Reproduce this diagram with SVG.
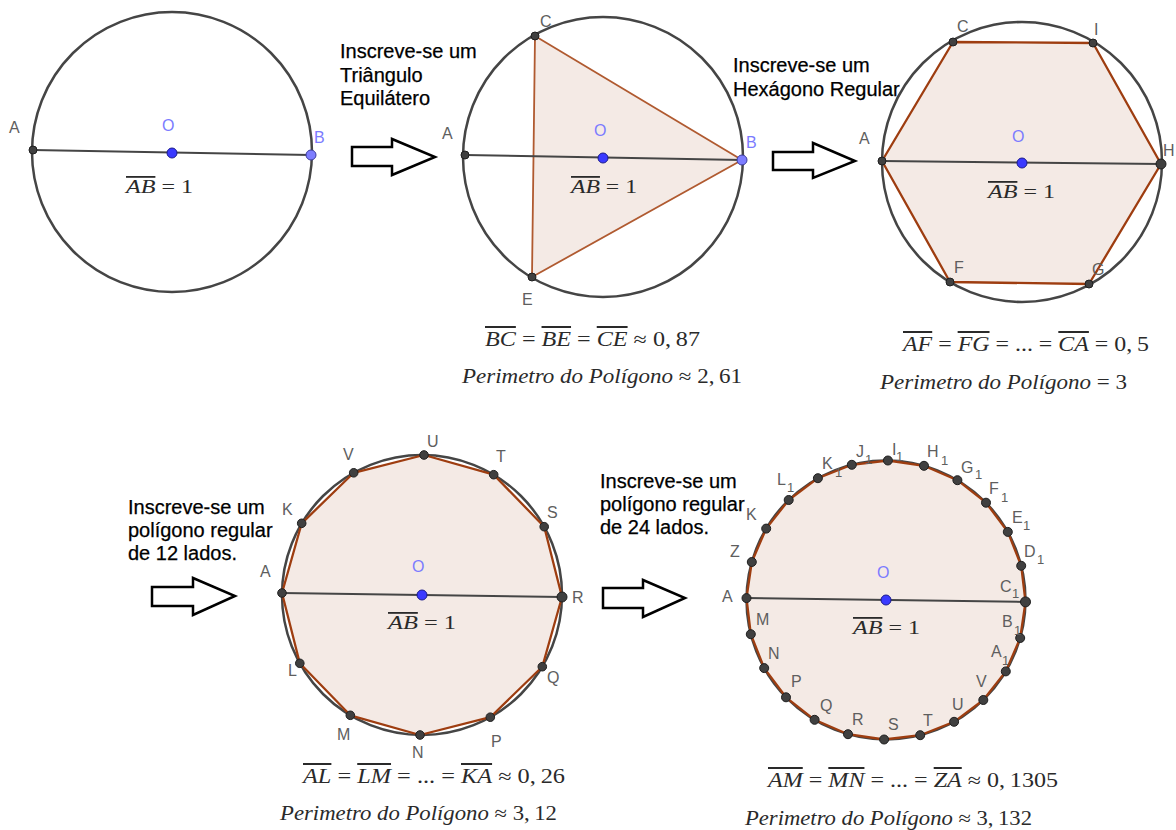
<svg xmlns="http://www.w3.org/2000/svg" width="1176" height="830" viewBox="0 0 1176 830">
<style>
.circ{fill:none;stroke:#454545;stroke-width:2.5}
.dia{stroke:#454545;stroke-width:2}
.poly{fill:#f4eae5;stroke:#9e3d10;stroke-width:2.3;stroke-linejoin:round}
.pt{fill:#404040;stroke:#1f1f1f;stroke-width:1}
.po{fill:#3a3aff;stroke:#1c1c8c;stroke-width:1}
.pb{fill:#7d7dff;stroke:#3d3d9d;stroke-width:1}
.lb{font-family:"Liberation Sans",Arial,sans-serif;font-size:16px;fill:#5e5e5e}
.sub{font-size:13px}
.lo{font-family:"Liberation Sans",Arial,sans-serif;font-size:16px;fill:#7b7bff}
.tx{font-family:"Liberation Sans",Arial,sans-serif;font-size:20px;fill:#000;stroke:#000;stroke-width:0.25}
.m{font-family:"Liberation Serif","Times New Roman",serif;font-size:20px;fill:#2a2a2a}
.ms{font-size:18px}
.i{font-style:italic}
.ov{font-style:italic;text-decoration:overline}
.arr{fill:#fff;stroke:#000;stroke-width:2.5;stroke-linejoin:miter}
</style>

<g id="fig1">
<circle class="circ" cx="172" cy="152" r="140"/>
<line class="dia" x1="33" y1="150" x2="311" y2="155"/>
<circle class="pt" cx="33" cy="150" r="4"/>
<circle class="po" cx="172" cy="153" r="5"/>
<circle class="pb" cx="311" cy="155" r="5"/>
<text class="lb" x="9" y="133">A</text>
<text class="lo" x="162" y="131">O</text>
<text class="lo" x="314" y="143">B</text>
<text class="m ms" x="126" y="193" textLength="67" lengthAdjust="spacingAndGlyphs"><tspan class="ov">AB</tspan> = 1</text>
</g>

<g id="fig2">
<polygon class="poly" style="stroke-width:1.8;stroke:#b05a30" points="535,36 742,160 532,277"/>
<circle class="circ" cx="603" cy="157" r="140"/>
<line class="dia" x1="465" y1="155" x2="742" y2="160"/>
<circle class="pt" cx="465" cy="155" r="4"/>
<circle class="pt" cx="535" cy="36" r="4"/>
<circle class="pt" cx="532" cy="277" r="4"/>
<circle class="po" cx="603" cy="158" r="5"/>
<circle class="pb" cx="742" cy="160" r="5"/>
<text class="lb" x="540" y="27">C</text>
<text class="lb" x="442" y="139">A</text>
<text class="lo" x="594" y="136">O</text>
<text class="lo" x="746" y="148">B</text>
<text class="lb" x="522" y="305">E</text>
<text class="m ms" x="571" y="193" textLength="66" lengthAdjust="spacingAndGlyphs"><tspan class="ov">AB</tspan> = 1</text>
<text class="m" x="485" y="346" textLength="215" lengthAdjust="spacingAndGlyphs"><tspan class="ov">BC</tspan> = <tspan class="ov">BE</tspan> = <tspan class="ov">CE</tspan> ≈ 0,<tspan dx="4">87</tspan></text>
<text class="m" x="462" y="383" textLength="280" lengthAdjust="spacingAndGlyphs"><tspan class="i">Perimetro do Polígono</tspan> ≈ 2,<tspan dx="4">61</tspan></text>
</g>

<g id="fig3">
<polygon class="poly" points="882,161 953,42 1093,43 1161,164 1089,284 950,282"/>
<circle class="circ" cx="1022" cy="162" r="140"/>
<line class="dia" x1="882" y1="161" x2="1161" y2="164"/>
<circle class="pt" cx="882" cy="161" r="4"/>
<circle class="pt" cx="953" cy="42" r="4"/>
<circle class="pt" cx="1093" cy="43" r="4"/>
<circle class="pt" cx="1161" cy="164" r="5"/>
<circle class="pt" cx="1089" cy="284" r="4"/>
<circle class="pt" cx="950" cy="282" r="4"/>
<circle class="po" cx="1022" cy="163" r="5"/>
<text class="lb" x="957" y="32">C</text>
<text class="lb" x="1094" y="35">I</text>
<text class="lb" x="859" y="144">A</text>
<text class="lo" x="1012" y="142">O</text>
<text class="lb" x="1163" y="156">H</text>
<text class="lb" x="954" y="273">F</text>
<text class="lb" x="1092" y="275">G</text>
<text class="m ms" x="988" y="198" textLength="67" lengthAdjust="spacingAndGlyphs"><tspan class="ov">AB</tspan> = 1</text>
<text class="m" x="903" y="351" textLength="246" lengthAdjust="spacingAndGlyphs"><tspan class="ov">AF</tspan> = <tspan class="ov">FG</tspan> = ... = <tspan class="ov">CA</tspan> = 0,<tspan dx="4">5</tspan></text>
<text class="m" x="880" y="389" textLength="247" lengthAdjust="spacingAndGlyphs"><tspan class="i">Perimetro do Polígono</tspan> = 3</text>
</g>

<g id="fig4">
<circle class="circ" cx="422" cy="595" r="140"/>
<polygon class="poly" points="562,597 544.2,526.7 493.7,474.7 424,455 353.7,472.8 301.7,523.3 282,593 299.8,663.3 350.3,715.3 420,735 490.3,717.2 542.3,666.7"/>
<line class="dia" x1="282" y1="593" x2="562" y2="597"/>
<g class="pt">
<circle cx="544.2" cy="526.7" r="4.3"/><circle cx="493.7" cy="474.7" r="4.3"/><circle cx="424" cy="455" r="4.3"/><circle cx="353.7" cy="472.8" r="4.3"/><circle cx="301.7" cy="523.3" r="4.3"/><circle cx="282" cy="593" r="4.3"/><circle cx="299.8" cy="663.3" r="4.3"/><circle cx="350.3" cy="715.3" r="4.3"/><circle cx="420" cy="735" r="4.3"/><circle cx="490.3" cy="717.2" r="4.3"/><circle cx="542.3" cy="666.7" r="4.3"/><circle cx="562" cy="597" r="5"/>
</g>
<circle class="po" cx="422" cy="595" r="5"/>
<text class="lb" x="427" y="447">U</text>
<text class="lb" x="496" y="462">T</text>
<text class="lb" x="547" y="518">S</text>
<text class="lb" x="572" y="603">R</text>
<text class="lb" x="547" y="683">Q</text>
<text class="lb" x="491" y="747">P</text>
<text class="lb" x="412" y="758">N</text>
<text class="lb" x="337" y="740">M</text>
<text class="lb" x="288" y="676">L</text>
<text class="lb" x="260" y="577">A</text>
<text class="lb" x="282" y="515">K</text>
<text class="lb" x="343" y="460">V</text>
<text class="lo" x="412" y="572">O</text>
<text class="m ms" x="388" y="629" textLength="68" lengthAdjust="spacingAndGlyphs"><tspan class="ov">AB</tspan> = 1</text>
<text class="m" x="303" y="783" textLength="262" lengthAdjust="spacingAndGlyphs"><tspan class="ov">AL</tspan> = <tspan class="ov">LM</tspan> = ... = <tspan class="ov">KA</tspan> ≈ 0,<tspan dx="4">26</tspan></text>
<text class="m" x="280" y="820" textLength="277" lengthAdjust="spacingAndGlyphs"><tspan class="i">Perimetro do Polígono</tspan> ≈ 3,<tspan dx="4">12</tspan></text>
</g>

<g id="fig5">
<circle class="circ" cx="886" cy="600" r="139.5"/>
<polygon class="poly" points="1025.5,601.9 1021.2,565.8 1007.8,531.9 986,502.7 957.4,480.2 924,465.8 887.9,460.5 851.8,464.8 817.9,478.2 788.7,500 766.2,528.6 751.8,562 746.5,598.1 750.8,634.2 764.2,668.1 786,697.3 814.6,719.8 848,734.2 884.1,739.5 920.2,735.2 954.1,721.8 983.3,700 1005.8,671.4 1020.2,638"/>
<line class="dia" x1="746.5" y1="598.1" x2="1025.5" y2="601.9"/>
<g class="pt">
<circle cx="1021.2" cy="565.8" r="4.5"/><circle cx="1007.8" cy="531.9" r="4.5"/><circle cx="986" cy="502.7" r="4.5"/><circle cx="957.4" cy="480.2" r="4.5"/><circle cx="924" cy="465.8" r="4.5"/><circle cx="887.9" cy="460.5" r="4.5"/><circle cx="851.8" cy="464.8" r="4.5"/><circle cx="817.9" cy="478.2" r="4.5"/><circle cx="788.7" cy="500" r="4.5"/><circle cx="766.2" cy="528.6" r="4.5"/><circle cx="751.8" cy="562" r="4.5"/><circle cx="746.5" cy="598.1" r="4.5"/><circle cx="750.8" cy="634.2" r="4.5"/><circle cx="764.2" cy="668.1" r="4.5"/><circle cx="786" cy="697.3" r="4.5"/><circle cx="814.6" cy="719.8" r="4.5"/><circle cx="848" cy="734.2" r="4.5"/><circle cx="884.1" cy="739.5" r="4.5"/><circle cx="920.2" cy="735.2" r="4.5"/><circle cx="954.1" cy="721.8" r="4.5"/><circle cx="983.3" cy="700" r="4.5"/><circle cx="1005.8" cy="671.4" r="4.5"/><circle cx="1020.2" cy="638" r="4.5"/><circle cx="1025.5" cy="601.9" r="5"/>
</g>
<circle class="po" cx="886" cy="600" r="5"/>
<text class="lb" x="722" y="602">A</text>
<text class="lb" x="730" y="557">Z</text>
<text class="lb" x="746" y="520">K</text>
<text class="lb" x="777" y="485">L<tspan class="sub" x="787" y="492">1</tspan></text>
<text class="lb" x="822" y="469">K<tspan class="sub" x="835" y="477">1</tspan></text>
<text class="lb" x="856" y="457">J<tspan class="sub" x="865" y="464">1</tspan></text>
<text class="lb" x="892" y="455">I<tspan class="sub" x="896" y="461">1</tspan></text>
<text class="lb" x="927" y="457">H<tspan class="sub" x="941" y="465">1</tspan></text>
<text class="lb" x="961" y="473">G<tspan class="sub" x="975" y="479">1</tspan></text>
<text class="lb" x="989" y="494">F<tspan class="sub" x="1001" y="502">1</tspan></text>
<text class="lb" x="1012" y="523">E<tspan class="sub" x="1023" y="530">1</tspan></text>
<text class="lb" x="1024" y="557">D<tspan class="sub" x="1037" y="564">1</tspan></text>
<text class="lb" x="1000" y="592">C<tspan class="sub" x="1012" y="598">1</tspan></text>
<text class="lb" x="1002" y="627">B<tspan class="sub" x="1014" y="635">1</tspan></text>
<text class="lb" x="991" y="657">A<tspan class="sub" x="1002" y="665">1</tspan></text>
<text class="lb" x="976" y="687">V</text>
<text class="lb" x="952" y="710">U</text>
<text class="lb" x="923" y="726">T</text>
<text class="lb" x="888" y="730">S</text>
<text class="lb" x="852" y="725">R</text>
<text class="lb" x="820" y="711">Q</text>
<text class="lb" x="791" y="687">P</text>
<text class="lb" x="768" y="659">N</text>
<text class="lb" x="756" y="625">M</text>
<text class="lo" x="877" y="578">O</text>
<text class="m ms" x="853" y="634" textLength="67" lengthAdjust="spacingAndGlyphs"><tspan class="ov">AB</tspan> = 1</text>
<text class="m" x="768" y="787" textLength="290" lengthAdjust="spacingAndGlyphs"><tspan class="ov">AM</tspan> = <tspan class="ov">MN</tspan> = ... = <tspan class="ov">ZA</tspan> ≈ 0,<tspan dx="4">1305</tspan></text>
<text class="m" x="745" y="825" textLength="287" lengthAdjust="spacingAndGlyphs"><tspan class="i">Perimetro do Polígono</tspan> ≈ 3,<tspan dx="4">132</tspan></text>
</g>

<g id="connectors">
<polygon class="arr" points="352,147 392,147 392,139 435,157 392,175 392,166 352,166"/>
<polygon class="arr" points="773,152 813,152 813,143 855,161 813,178 813,170 773,170"/>
<polygon class="arr" points="152,587 193,587 193,578 235,596 193,615 193,606 152,606"/>
<polygon class="arr" points="603,588 643,588 643,580 685,598 643,617 643,608 603,608"/>
</g>

<g id="step1-label">
<text class="tx" x="340" y="58">Inscreve-se um</text>
<text class="tx" x="340" y="81.5">Triângulo</text>
<text class="tx" x="340" y="105">Equilátero</text>
</g>
<g id="step2-label">
<text class="tx" x="733" y="72">Inscreve-se um</text>
<text class="tx" x="733" y="96">Hexágono Regular</text>
</g>
<g id="step3-label">
<text class="tx" x="128" y="514">Inscreve-se um</text>
<text class="tx" x="128" y="537">polígono regular</text>
<text class="tx" x="128" y="560">de 12 lados.</text>
</g>
<g id="step4-label">
<text class="tx" x="600" y="488">Inscreve-se um</text>
<text class="tx" x="600" y="511">polígono regular</text>
<text class="tx" x="600" y="534">de 24 lados.</text>
</g>
</svg>
